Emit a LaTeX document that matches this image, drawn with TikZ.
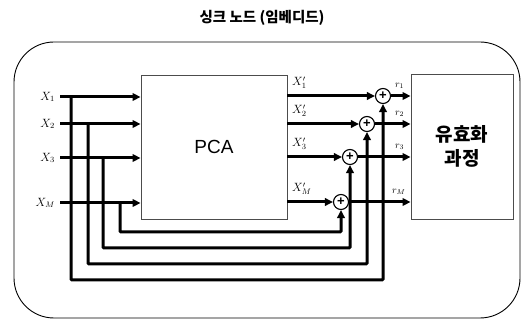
\documentclass[tikz,border=0pt]{standalone}
\usepackage{fontspec}
\setmainfont{Liberation Serif}
\newfontfamily\krfont{Noto Sans CJK KR}
\newfontfamily\sansf{Liberation Sans}
\usetikzlibrary{arrows.meta}
\begin{document}
\begin{tikzpicture}[x=1pt,y=-1pt,
  sig/.style={line width=3pt},
  arr/.style={sig,-{Triangle[length=8pt,width=7.5pt]}},
  boxst/.style={draw=black!70,line width=0.9pt,inner sep=0pt},
  summ/.style={circle,draw,line width=1.1pt,minimum size=15pt,inner sep=0pt,font=\sansf\bfseries\fontsize{13}{13}\selectfont},
  lab/.style={inner sep=0pt,font=\fontsize{12}{12}\selectfont},
  olab/.style={inner sep=0pt,font=\fontsize{10}{10}\selectfont}]
\useasboundingbox (0,0) rectangle (522,320);
% title
\node[font=\krfont\bfseries\fontsize{14.5}{14.5}\selectfont] (title) at (262,18) {싱크 노드 (임베디드)};
% outer frame
\draw[line width=0.9pt,rounded corners=40pt] (14,42) rectangle (520,318);
% boxes
\node[boxst,minimum width=146pt,minimum height=144pt,font=\sansf\fontsize{19}{19}\selectfont] (pca) at (214,147) {PCA};
\node[boxst,minimum width=102pt,minimum height=145pt,align=center,font=\krfont\bfseries\fontsize{19}{24}\selectfont] (val) at (462,146.5) {유효화\\과정};
% input labels
\node[lab,anchor=east] (x1) at (55,97) {$X_1$};
\node[lab,anchor=east] (x2) at (55,124) {$X_2$};
\node[lab,anchor=east] (x3) at (55,158) {$X_3$};
\node[lab,anchor=east] (xm) at (55,203) {$X_M$};
% sum nodes
\node[summ] (s1) at (383,96) {+};
\node[summ] (s2) at (367,124) {+};
\node[summ] (s3) at (350,157) {+};
\node[summ] (sm) at (341,202) {+};
% coordinates
\coordinate (i1) at (60,97);
\coordinate (i2) at (60,124);
\coordinate (i3) at (60,158);
\coordinate (im) at (60,203);
\coordinate (v1) at (71,97);
\coordinate (v2) at (88,124);
\coordinate (v3) at (103,158);
\coordinate (vm) at (120,203);
% feedback loops (drawn first)
\draw[arr,rounded corners=1pt] (v1) |- (383,280) -- (s1.south);
\draw[arr,rounded corners=1pt] (v2) |- (367,264) -- (s2.south);
\draw[arr,rounded corners=1pt] (v3) |- (350,248) -- (s3.south);
\draw[arr,rounded corners=1pt] (vm) |- (341,232) -- (sm.south);
% inputs to PCA
\draw[arr] (i1) -- (i1 -| pca.west);
\draw[arr] (i2) -- (i2 -| pca.west);
\draw[arr] (i3) -- (i3 -| pca.west);
\draw[arr] (im) -- (im -| pca.west);
% PCA outputs to sums
\draw[arr] (s1 -| pca.east) -- (s1.west);
\draw[arr] (s2 -| pca.east) -- (s2.west);
\draw[arr] (s3 -| pca.east) -- (s3.west);
\draw[arr] (sm -| pca.east) -- (sm.west);
% sums to validation
\draw[arr] (s1.east) -- (s1 -| val.west);
\draw[arr] (s2.east) -- (s2 -| val.west);
\draw[arr] (s3.east) -- (s3 -| val.west);
\draw[arr] (sm.east) -- (sm -| val.west);
% output labels
\node[lab,anchor=south west] (p1) at (292,89) {$X'_1$};
\node[lab,anchor=south west] (p2) at (292,117) {$X'_2$};
\node[lab,anchor=south west] (p3) at (292,150) {$X'_3$};
\node[lab,anchor=south west] (pm) at (292,195) {$X'_M$};
\node[olab,anchor=south west] (r1) at (395,89) {$r_1$};
\node[olab,anchor=south west] (r2) at (395,117) {$r_2$};
\node[olab,anchor=south west] (r3) at (395,150) {$r_3$};
\node[olab,anchor=south west] (rm) at (392,195) {$r_M$};
\end{tikzpicture}
\end{document}
